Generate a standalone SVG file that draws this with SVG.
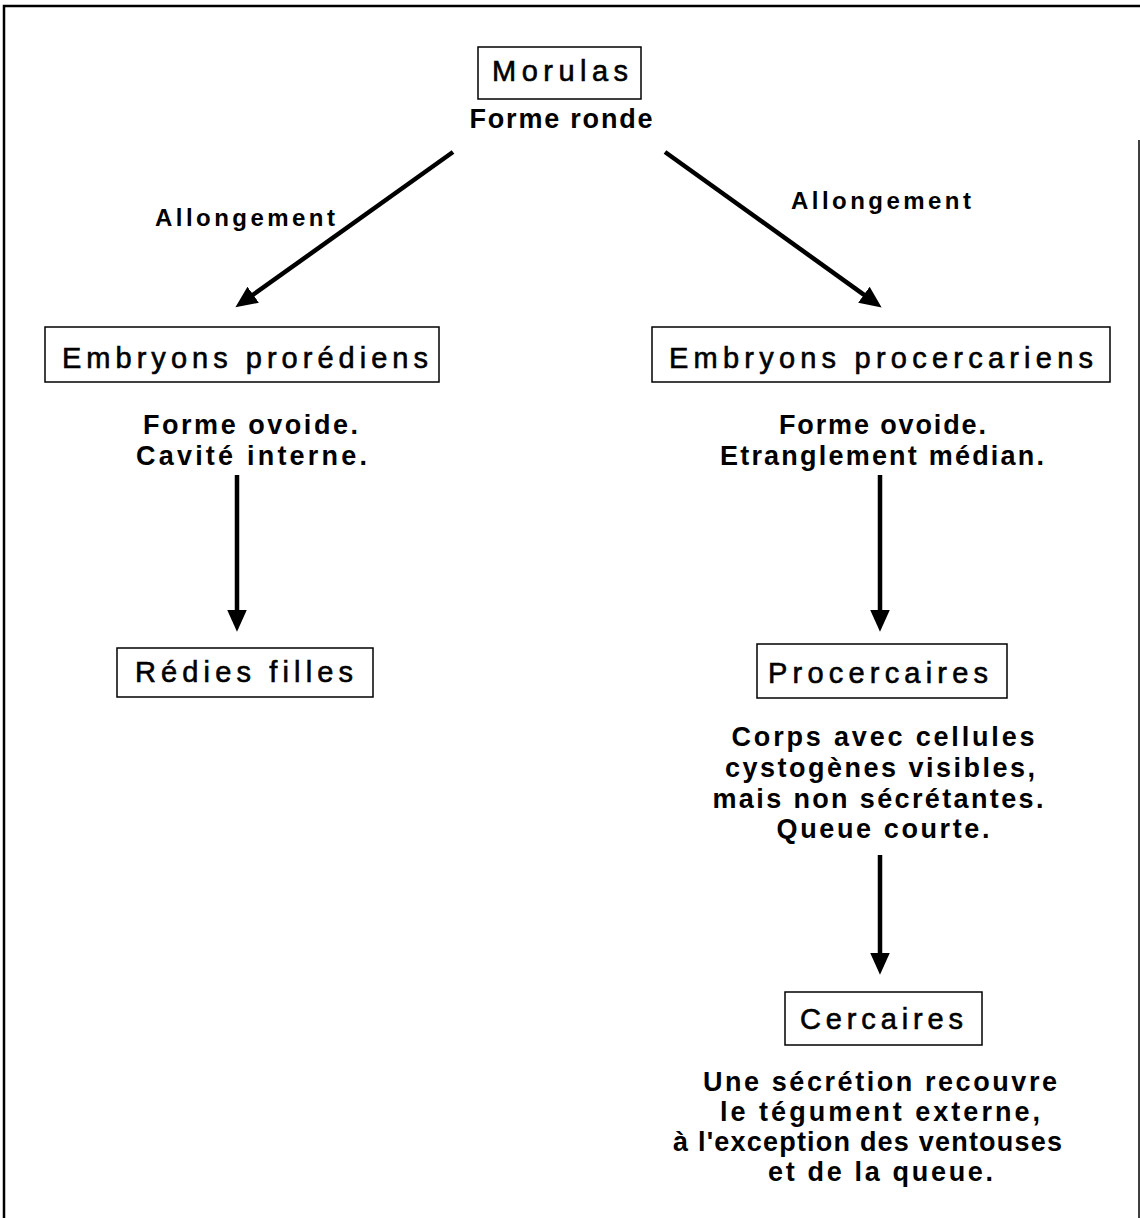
<svg xmlns="http://www.w3.org/2000/svg" width="1140" height="1218" viewBox="0 0 1140 1218">
  <style>
    .box { fill: #fff; stroke: #000; stroke-width: 1.5; }
    .label { font-family: "Liberation Sans", Arial, sans-serif; font-size: 29px; fill: #000; stroke: #000; stroke-width: 0.6; text-anchor: middle; }
    .desc { font-family: "Liberation Sans", Arial, sans-serif; font-size: 27px; font-weight: bold; fill: #000; text-anchor: middle; }
    .edge { font-family: "Liberation Sans", Arial, sans-serif; font-size: 24px; font-weight: bold; fill: #000; text-anchor: middle; }
    .conn { stroke: #000; stroke-width: 4.5; fill: none; marker-end: url(#head); }
    .frame { stroke: #000; fill: none; }
  </style>
  <defs>
    <marker id="head" markerUnits="userSpaceOnUse" markerWidth="24" markerHeight="22" viewBox="0 -10 22 20" refX="1" refY="0" orient="auto">
      <path d="M0,-9 L20,0 L0,9 z" fill="#000"/>
    </marker>
  </defs>

  <rect width="1140" height="1218" fill="#fff"/>

  <!-- page frame -->
  <g id="frame">
    <path class="frame" stroke-width="2.5" d="M4,1218 V6 H1140"/>
    <path class="frame" stroke-width="1.5" d="M1139,140 V1218"/>
  </g>

  <!-- connectors -->
  <g id="connectors">
    <line class="conn" x1="453" y1="152" x2="252.3" y2="295.3"/>
    <line class="conn" x1="665" y1="152" x2="864.8" y2="295.3"/>
    <line class="conn" x1="237" y1="475" x2="237" y2="611"/>
    <line class="conn" x1="880" y1="475" x2="880" y2="611"/>
    <line class="conn" x1="880" y1="855" x2="880" y2="954"/>
    <text class="edge" x="245" y="226" textLength="180" lengthAdjust="spacing">Allongement</text>
    <text class="edge" x="881" y="209" textLength="180" lengthAdjust="spacing">Allongement</text>
  </g>

  <!-- nodes -->
  <g id="morulas">
    <rect class="box" x="478" y="47" width="163" height="52"/>
    <text class="label" x="560" y="81" textLength="136" lengthAdjust="spacing">Morulas</text>
    <text class="desc" x="561" y="128" textLength="183" lengthAdjust="spacing">Forme ronde</text>
  </g>

  <g id="embryons-prorediens">
    <rect class="box" x="45" y="327" width="394" height="55"/>
    <text class="label" x="245" y="368" textLength="366" lengthAdjust="spacing">Embryons prorédiens</text>
    <text class="desc" x="250.5" y="434" textLength="215" lengthAdjust="spacing">Forme ovoide.</text>
    <text class="desc" x="251.5" y="465" textLength="231" lengthAdjust="spacing">Cavité interne.</text>
  </g>

  <g id="embryons-procercariens">
    <rect class="box" x="652" y="327" width="458" height="55"/>
    <text class="label" x="881" y="368" textLength="424" lengthAdjust="spacing">Embryons procercariens</text>
    <text class="desc" x="882.5" y="434" textLength="207" lengthAdjust="spacing">Forme ovoide.</text>
    <text class="desc" x="882" y="465" textLength="324" lengthAdjust="spacing">Etranglement médian.</text>
  </g>

  <g id="redies-filles">
    <rect class="box" x="117" y="648" width="256" height="49"/>
    <text class="label" x="244" y="682" textLength="218" lengthAdjust="spacing">Rédies filles</text>
  </g>

  <g id="procercaires">
    <rect class="box" x="757" y="644" width="250" height="54"/>
    <text class="label" x="878" y="683" textLength="220" lengthAdjust="spacing">Procercaires</text>
    <text class="desc" x="883" y="746" textLength="303" lengthAdjust="spacing">Corps avec cellules</text>
    <text class="desc" x="880" y="777" textLength="310" lengthAdjust="spacing">cystogènes visibles,</text>
    <text class="desc" x="878" y="808" textLength="331" lengthAdjust="spacing">mais non sécrétantes.</text>
    <text class="desc" x="883" y="838" textLength="213" lengthAdjust="spacing">Queue courte.</text>
  </g>

  <g id="cercaires">
    <rect class="box" x="785" y="992" width="197" height="53"/>
    <text class="label" x="881.5" y="1029" textLength="163" lengthAdjust="spacing">Cercaires</text>
    <text class="desc" x="880" y="1091" textLength="354" lengthAdjust="spacing">Une sécrétion recouvre</text>
    <text class="desc" x="880" y="1121" textLength="320" lengthAdjust="spacing">le tégument externe,</text>
    <text class="desc" x="867.5" y="1151" textLength="389" lengthAdjust="spacing">à l'exception des ventouses</text>
    <text class="desc" x="880.5" y="1181" textLength="225" lengthAdjust="spacing">et de la queue.</text>
  </g>
</svg>
